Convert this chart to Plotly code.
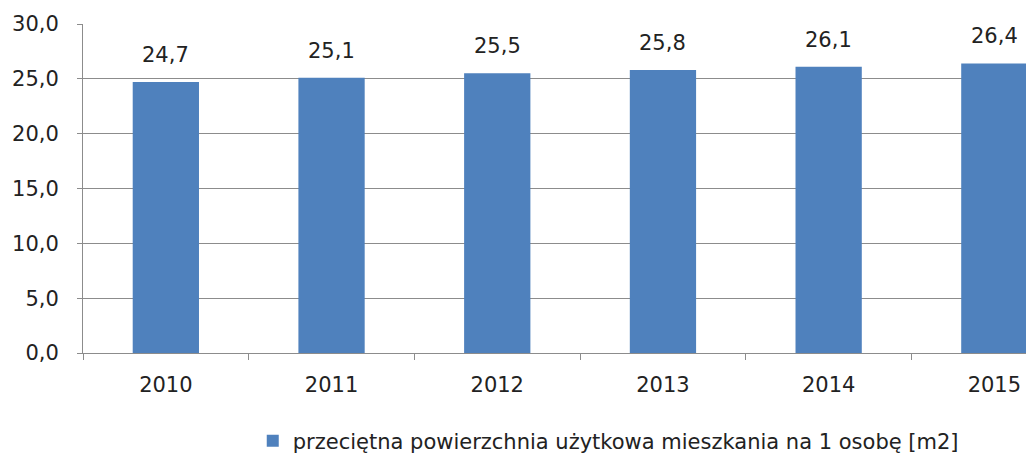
import plotly.graph_objects as go

years = ["2010", "2011", "2012", "2013", "2014", "2015"]
values = [24.7, 25.1, 25.5, 25.8, 26.1, 26.4]
series_name = "przeciętna powierzchnia użytkowa mieszkania na 1 osobę [m2]"
y_ticks = [0, 5, 10, 15, 20, 25, 30]

BAR_COLOR = "#4F81BD"
GRID_COLOR = "#8C8C8C"
FONT = "DejaVu Sans"
FSIZE = 21

fig = go.Figure()
fig.add_trace(go.Bar(
    x=years, y=values,
    name=series_name,
    marker=dict(color=BAR_COLOR, line=dict(width=0)),
    showlegend=True,
))

# data labels above bars (Excel style, with a gap); x given as category index
for i, v in enumerate(values):
    fig.add_annotation(
        x=i, y=v, text=f"{v:.1f}".replace(".", ","),
        showarrow=False, yanchor="middle", yshift=27,
        font=dict(family=FONT, size=FSIZE, color="#222222"),
    )

fig.update_layout(
    width=1026, height=455,
    margin=dict(l=83, r=0, t=24, b=102, autoexpand=False),
    paper_bgcolor="white", plot_bgcolor="white",
    bargap=0.6,
    separators=", ",
    font=dict(family=FONT, size=FSIZE, color="#222222"),
    legend=dict(
        orientation="h", x=0.557, xanchor="center",
        y=1 - 441 / 455, yref="container", yanchor="middle",
        font=dict(family=FONT, size=FSIZE, color="#222222"),
        itemwidth=30,
    ),
)

fig.update_xaxes(
    type="category",
    range=[-0.5, 5.191],
    showline=True, linecolor=GRID_COLOR, linewidth=1,
    ticks="outside", tickson="boundaries", ticklen=6, tickcolor=GRID_COLOR,
    ticklabelstandoff=13,
    showgrid=False,
)
fig.update_yaxes(
    range=[0, 30],
    tickvals=y_ticks, tickformat=".1f",
    showline=True, linecolor=GRID_COLOR, linewidth=1,
    ticks="outside", ticklen=5, tickcolor=GRID_COLOR,
    ticklabelstandoff=14,
    showgrid=True, gridcolor=GRID_COLOR, gridwidth=1,
    zeroline=False,
)

# page body has a default 8px margin; remove it so the chart sits at the window origin
fig.write_html("out.html", config={"displayModeBar": False},
               post_script="document.body.style.margin='0';")
